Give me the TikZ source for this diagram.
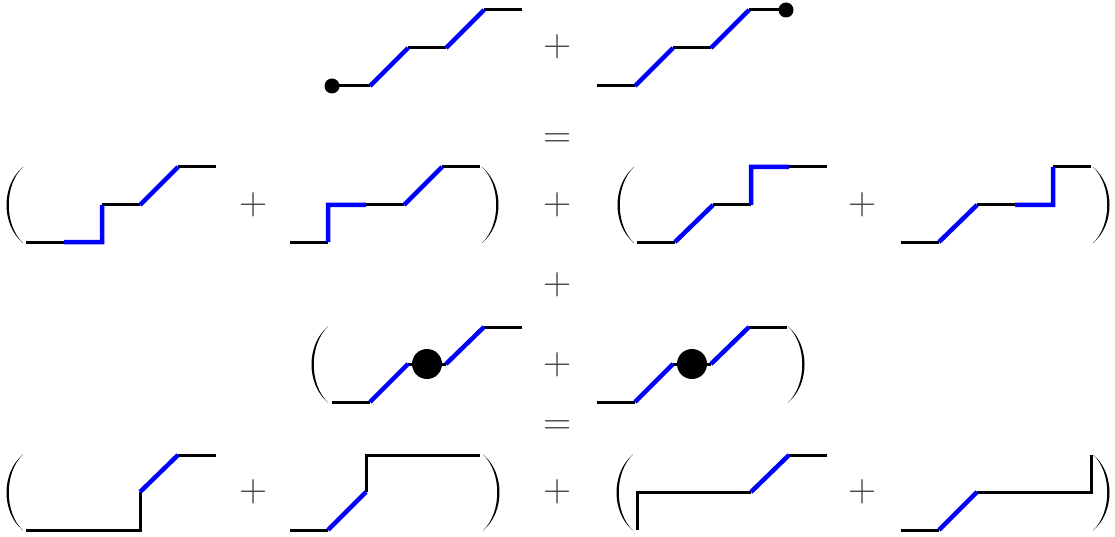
\documentclass[tikz,border=0pt]{standalone}
\usepackage{fontspec}
\setmainfont{Latin Modern Roman}
\usepackage{tikz}
\newcommand\mylpar[2]{\fill (#1,#2-38) .. controls (#1-22,#2-20) and (#1-22,#2+20) .. (#1,#2+38) .. controls (#1-19,#2+20) and (#1-19,#2-20) .. (#1,#2-38) -- cycle;}
\newcommand\myrpar[2]{\fill (#1,#2-38) .. controls (#1+22,#2-20) and (#1+22,#2+20) .. (#1,#2+38) .. controls (#1+19,#2+20) and (#1+19,#2-20) .. (#1,#2-38) -- cycle;}
\begin{document}
\begin{tikzpicture}[x=1pt,y=-1pt,
  blk/.style={line width=3pt,black},
  blu/.style={line width=4.5pt,blue},
  op/.style={inner sep=0pt,text=black!75,font=\fontsize{39}{46}\selectfont}]
\useasboundingbox (0,0) rectangle (1115,537);
% operators
\node[op] (o1) at (558,47) {+};
\node[op] (o2) at (558,140.5) {=};
\node[op] (o3) at (254,205) {+};
\node[op] (o4) at (558,205) {+};
\node[op] (o5) at (863,205) {+};
\node[op] (o6) at (558,285) {+};
\node[op] (o7) at (558,365) {+};
\node[op] (o8) at (558,427.5) {=};
\node[op] (o9) at (254,492) {+};
\node[op] (o10) at (558,492) {+};
\node[op] (o11) at (863,492) {+};
% parentheses
\mylpar{23}{205}\myrpar{482}{205}\mylpar{634}{205}\myrpar{1093}{205}
\mylpar{328}{364.5}\myrpar{788}{364.5}
\mylpar{23}{492.5}\myrpar{483}{492.5}\mylpar{633}{492.5}\myrpar{1093}{492.5}
% row 1
\draw[blk] (332,86)--(370,86) (408,48)--(446,48) (484,10)--(522,10);
\draw[blu] (370,86)--(408,48) (446,48)--(484,10);
\fill (332,86) circle (7.5);
\draw[blk] (597,86)--(635,86) (673,48)--(711,48) (749,10)--(787,10);
\draw[blu] (635,86)--(673,48) (711,48)--(749,10);
\fill (786,10) circle (7.5);
% row 2
\draw[blk] (26,242)--(64,242) (102,205)--(140,205) (178,167)--(216,167);
\draw[blu] (64,242)--(102,242)--(102,205) (140,205)--(178,167);
\draw[blk] (290,242)--(328,242) (366,205)--(404,205) (442,167)--(480,167);
\draw[blu] (328,242)--(328,205)--(366,205) (404,205)--(442,167);
\draw[blk] (637,242)--(675,242) (713,205)--(751,205) (789,167)--(827,167);
\draw[blu] (675,242)--(713,205) (751,205)--(751,167)--(789,167);
\draw[blk] (901,242)--(939,242) (977,205)--(1015,205) (1053,167)--(1091,167);
\draw[blu] (939,242)--(977,205) (1015,205)--(1053,205)--(1053,167);
% row 3
\draw[blk] (332,402)--(370,402) (408,364)--(446,364) (484,327)--(522,327);
\draw[blu] (370,402)--(408,364) (446,364)--(484,327);
\fill (427,364) circle (15);
\draw[blk] (597,402)--(635,402) (673,364)--(711,364) (749,327)--(787,327);
\draw[blu] (635,402)--(673,364) (711,364)--(749,327);
\fill (692,364) circle (15);
% row 4
\draw[blk] (26,530)--(140,530)--(140,492) (178,455)--(216,455);
\draw[blu] (140,492)--(178,455);
\draw[blk] (290,530)--(328,530) (366,492)--(366,455)--(480,455);
\draw[blu] (328,530)--(366,492);
\draw[blk] (637,530)--(637,492)--(751,492) (789,455)--(827,455);
\draw[blu] (751,492)--(789,455);
\draw[blk] (901,530)--(939,530) (977,492)--(1091,492)--(1091,455);
\draw[blu] (939,530)--(977,492);
\end{tikzpicture}
\end{document}
